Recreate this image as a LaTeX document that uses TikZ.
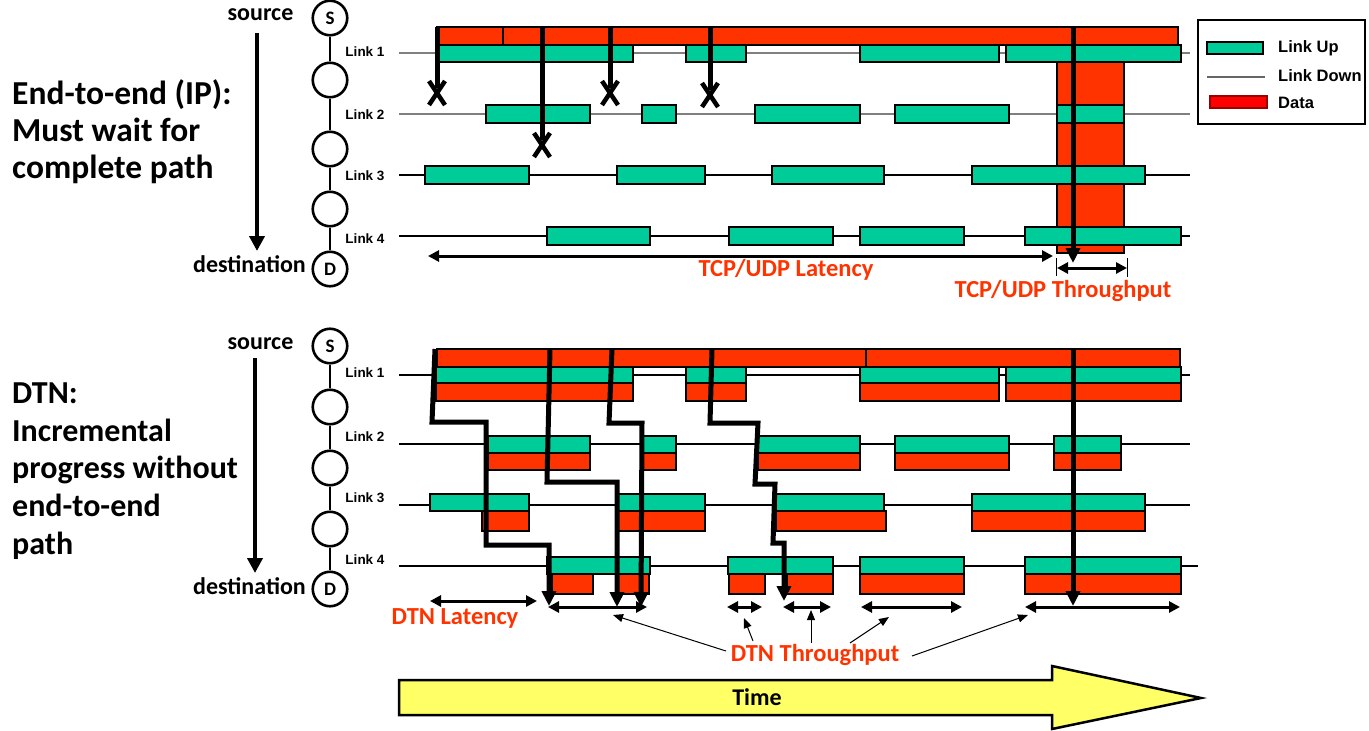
\documentclass[tikz,border=0pt]{standalone}
\usepackage{fontspec}
\setmainfont{Carlito}
\newfontfamily\arialf{Liberation Sans}
\usetikzlibrary{arrows.meta}
\definecolor{lgreen}{HTML}{00CC99}
\definecolor{dred}{HTML}{FF3300}
\definecolor{lred}{HTML}{FF0000}
\definecolor{tyellow}{HTML}{FFFF66}
\definecolor{downgray}{HTML}{808080}
\begin{document}
\begin{tikzpicture}[x=1pt,y=-1pt,
  up/.style={fill=lgreen,draw=black,line width=1.2pt},
  dat/.style={fill=dred,draw=black,line width=1.2pt},
  legdat/.style={fill=lred,draw=red!60!black,line width=1.2pt},
  down/.style={line width=1.2pt},
  downg/.style={line width=1.4pt,draw=downgray},
  nd/.style={circle,draw,line width=2.6pt,minimum size=34.5pt,inner sep=0pt,font=\fontsize{19}{20}\selectfont\bfseries},
  chainl/.style={line width=2.6pt},
  side/.style={font=\fontsize{24}{28}\selectfont\bfseries,inner sep=0pt},
  bigtop/.style={font=\fontsize{33.5}{37}\selectfont\bfseries,align=left,anchor=west,inner sep=0pt},
  big/.style={font=\fontsize{32}{37.75}\selectfont\bfseries,align=left,anchor=west,inner sep=0pt},
  linklbl/.style={font=\arialf\bfseries\fontsize{13.5}{16}\selectfont,inner sep=0pt},
  redlbl/.style={font=\fontsize{24.5}{28}\selectfont\bfseries,text=dred,inner sep=0pt},
  legtxt/.style={font=\arialf\bfseries\fontsize{16.5}{20}\selectfont,anchor=west,inner sep=0pt},
  hop/.style={line width=5pt,line join=miter},
  hoparrow/.style={hop,-{Triangle[length=15pt,width=14pt]}},
  xmark/.style={line width=4.5pt},
  dirarrow/.style={line width=4pt,-{Triangle[length=15pt,width=15pt]}},
  span/.style={line width=3pt,{Triangle[length=11pt,width=11pt]}-{Triangle[length=11pt,width=11pt]}},
  pointer/.style={line width=1pt,-{Triangle[length=10pt,width=8pt]}},
  tick/.style={line width=0.8pt},
]
\useasboundingbox (0,0) rectangle (1369,731);

%================ TOP HALF =================
% node chain
\node[nd] (s1) at (330,18) {S};
\node[nd] (a1) at (330,80) {};
\node[nd] (b1) at (330,149) {};
\node[nd] (c1) at (330,209) {};
\node[nd] (d1) at (330,269) {D};
\draw[chainl] (s1) -- (a1) (a1) -- (b1) (b1) -- (c1) (c1) -- (d1);
\node[side] (src1) at (260.5,15) {source};
\node[side] (dst1) at (249.5,264) {destination};
\coordinate (dtop1) at (257,33);
\coordinate (dbot1) at (257,251);
\draw[dirarrow] (dtop1) -- (dbot1);

\node[bigtop] (t1) at (12,132) {End-to-end (IP):\\Must wait for\\complete path};

\node[linklbl] (l11) at (365,52) {Link 1};
\node[linklbl] (l12) at (365,115) {Link 2};
\node[linklbl] (l13) at (365,176) {Link 3};
\node[linklbl] (l14) at (365,239) {Link 4};

% link lines
\draw[downg] (399,53) -- (1190,53);
\draw[downg] (399,114) -- (1190,114);
\draw[down] (399,175) -- (1190,175);
\draw[down] (399,236) -- (1190,236);

% data column
\draw[dat] (1057,62) rectangle (1124,253);
\draw[dat] (437,27) rectangle (503,45);
\draw[dat] (503,27) rectangle (1178,45);

% link up bars
\draw[up] (438,45) rectangle (633,62);
\draw[up] (686,45) rectangle (746,62);
\draw[up] (860,45) rectangle (999,62);
\draw[up] (1006,45) rectangle (1181,62);

\draw[up] (486,105) rectangle (590,123);
\draw[up] (642,105) rectangle (676,123);
\draw[up] (755,105) rectangle (860,123);
\draw[up] (895,105) rectangle (1009,123);
\draw[up] (1057,105) rectangle (1124,123);

\draw[up] (425,166) rectangle (529,184);
\draw[up] (617,166) rectangle (705,184);
\draw[up] (772,166) rectangle (884,184);
\draw[up] (972,166) rectangle (1145,184);

\draw[up] (547,227) rectangle (650,245);
\draw[up] (729,227) rectangle (833,245);
\draw[up] (860,227) rectangle (964,245);
\draw[up] (1025,227) rectangle (1181,245);

% failed attempts
\coordinate (f1s) at (437,27);  \coordinate (f1e) at (437,88);
\coordinate (f2s) at (542,27);  \coordinate (f2e) at (542,140);
\coordinate (f3s) at (610,27);  \coordinate (f3e) at (610,88);
\coordinate (f4s) at (710,27);  \coordinate (f4e) at (710,90);
\draw[hop] (f1s) -- (f1e);
\draw[hop] (f2s) -- (f2e);
\draw[hop] (f3s) -- (f3e);
\draw[hop] (f4s) -- (f4e);
\foreach \cx/\cy in {437/93, 542/145, 610/93, 710/95}{
  \draw[xmark] (\cx-8,\cy-12) -- (\cx+8,\cy+12);
  \draw[xmark] (\cx+8,\cy-12) -- (\cx-8,\cy+12);
}
\coordinate (okS) at (1073,27); \coordinate (okE) at (1073,263);
\draw[hoparrow] (okS) -- (okE);

% latency / throughput
\coordinate (latL) at (428,256); \coordinate (latR) at (1053,256);
\draw[span] (latL) -- (latR);
\node[redlbl] (latT) at (786,270) {TCP/UDP Latency};
\coordinate (thL) at (1057,268); \coordinate (thR) at (1127,268);
\draw[span] (thL) -- (thR);
\draw[tick] (1056,258) -- (1056,276);
\draw[tick] (1127,258) -- (1127,277);
\node[redlbl] (thT) at (1063,291) {TCP/UDP Throughput};

% legend
\draw[line width=2.5pt] (1198,20) rectangle (1365,124);
\draw[up] (1207,42) rectangle (1263,54);
\node[legtxt] (lg1) at (1278,48) {Link Up};
\draw[line width=1.2pt,draw=downgray!80!black] (1207,77) -- (1265,77);
\node[legtxt] (lg2) at (1278,76) {Link Down};
\draw[legdat] (1210,96) rectangle (1267,108);
\node[legtxt] (lg3) at (1278,103) {Data};

%================ BOTTOM HALF =================
\node[nd] (s2) at (330,346) {S};
\node[nd] (a2) at (330,407) {};
\node[nd] (b2) at (330,468) {};
\node[nd] (c2) at (330,529) {};
\node[nd] (d2) at (330,589) {D};
\draw[chainl] (s2) -- (a2) (a2) -- (b2) (b2) -- (c2) (c2) -- (d2);
\node[side] (src2) at (260.5,344) {source};
\node[side] (dst2) at (249.5,586) {destination};
\coordinate (dtop2) at (255,358);
\coordinate (dbot2) at (255,573);
\draw[dirarrow] (dtop2) -- (dbot2);

\node[big] (t2) at (12,471) {DTN:\\Incremental\\progress without\\end-to-end\\path};

\node[linklbl] (l21) at (365,373) {Link 1};
\node[linklbl] (l22) at (365,437) {Link 2};
\node[linklbl] (l23) at (365,498) {Link 3};
\node[linklbl] (l24) at (365,560) {Link 4};

\draw[down] (399,375) -- (1190,375);
\draw[down] (399,444) -- (1190,444);
\draw[down] (399,505) -- (1190,505);
\draw[down] (399,566) -- (1198,566);

\draw[dat] (437,349) rectangle (866,367);
\draw[dat] (866,349) rectangle (1180,367);

\foreach \a/\b in {436/633, 686/746, 860/999, 1006/1181}{
  \draw[up] (\a,367) rectangle (\b,383);
  \draw[dat] (\a,383) rectangle (\b,401);
}
\foreach \a/\b in {488/590, 643/676, 758/860, 895/1009, 1054/1121}{
  \draw[up] (\a,436) rectangle (\b,453);
  \draw[dat] (\a,453) rectangle (\b,470);
}
\foreach \a/\b in {430/529, 618/705, 776/884, 972/1145}{
  \draw[up] (\a,494) rectangle (\b,511);
}
\foreach \a/\b in {482/529, 618/705, 776/886, 972/1145}{
  \draw[dat] (\a,511) rectangle (\b,531);
}
\foreach \a/\b in {547/650, 728/833, 860/964, 1025/1181}{
  \draw[up] (\a,557) rectangle (\b,574);
}
\foreach \a/\b in {552/593, 618/649, 729/765, 787/833, 860/964, 1025/1181}{
  \draw[dat] (\a,574) rectangle (\b,594);
}

% store-and-forward paths
\coordinate (p1s) at (435,349); \coordinate (p1e) at (549,606);
\draw[hoparrow] (p1s) -- (432,422) -- (486,422) -- (486,545) -- (549,545) -- (p1e);
\coordinate (p2s) at (550,349); \coordinate (p2e) at (617,607);
\draw[hoparrow] (p2s) -- (547,482) -- (617,482) -- (p2e);
\coordinate (p3s) at (612,349); \coordinate (p3e) at (641,607);
\draw[hoparrow] (p3s) -- (609,423) -- (642,423) -- (p3e);
\coordinate (p4s) at (712,349); \coordinate (p4e) at (784,601);
\draw[hoparrow] (p4s) -- (710,423) -- (758,423) -- (755,484) -- (775,484) -- (773,543) -- (784,543) -- (p4e);
\coordinate (p5s) at (1073,349); \coordinate (p5e) at (1073,606);
\draw[hoparrow] (p5s) -- (p5e);

% spans
\coordinate (dlL) at (430,601); \coordinate (dlR) at (537,601);
\draw[span] (dlL) -- (dlR);
\node[redlbl] (dlT) at (455,618) {DTN Latency};

\coordinate (s1L) at (548,607); \coordinate (s1R) at (647,607);
\coordinate (s2L) at (727,607); \coordinate (s2R) at (762,607);
\coordinate (s3L) at (783,607); \coordinate (s3R) at (831,607);
\coordinate (s4L) at (861,607); \coordinate (s4R) at (962,607);
\coordinate (s5L) at (1025,607); \coordinate (s5R) at (1180,607);
\draw[span] (s1L) -- (s1R);
\draw[span] (s2L) -- (s2R);
\draw[span] (s3L) -- (s3R);
\draw[span] (s4L) -- (s4R);
\draw[span] (s5L) -- (s5R);

\node[redlbl] (dtT) at (815,655) {DTN Throughput};
\coordinate (q1) at (613,615);
\coordinate (q2) at (744,618);
\coordinate (q3) at (811,610);
\coordinate (q4) at (889,617);
\coordinate (q5) at (1028,615);
\draw[pointer] (726,651) -- (q1);
\draw[pointer] (753,641) -- (q2);
\draw[pointer] (811,643) -- (q3);
\draw[pointer] (850,643) -- (q4);
\draw[pointer] (912,656) -- (q5);

% time arrow
\draw[line width=2.5pt,fill=tyellow,line join=miter]
  (399,680) -- (1052,680) -- (1052,666) -- (1201,698) -- (1052,729) -- (1052,715) -- (399,715) -- cycle;
\node[font=\fontsize{24}{28}\selectfont\bfseries] (time) at (757,697) {Time};
\end{tikzpicture}
\end{document}
